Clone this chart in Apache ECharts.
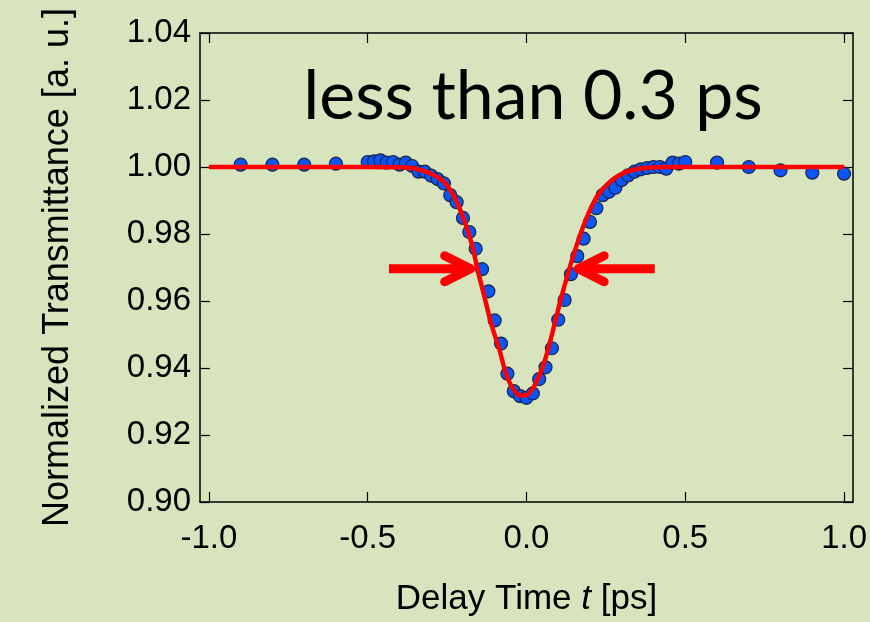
<!DOCTYPE html>
<html>
<head>
<meta charset="utf-8">
<script src="https://cdn.jsdelivr.net/npm/echarts@6/dist/echarts.min.js"></script>
<style>
html,body{margin:0;padding:0;background:#d7e4bd;}
#chart{width:870px;height:622px;}
</style>
</head>
<body>
<div id="chart"></div>
<script>
// Measured points (delay time in ps, normalized transmittance)
const pointX = [-0.9,-0.8,-0.7,-0.6,
  -0.50,-0.48,-0.46,-0.44,-0.42,-0.40,-0.38,-0.36,-0.34,-0.32,-0.30,-0.28,-0.26,-0.24,-0.22,-0.20,
  -0.18,-0.16,-0.14,-0.12,-0.10,-0.08,-0.06,-0.04,-0.02,0.00,
  0.02,0.04,0.06,0.08,0.10,0.12,0.14,0.16,0.18,0.20,0.22,0.24,0.26,0.28,0.30,0.32,0.34,0.36,0.38,0.40,
  0.42,0.44,0.46,0.48,0.50,
  0.6,0.7,0.8,0.9,1.0];
const pointY = [1.0007,1.0007,1.0007,1.0010,
  1.0015,1.0017,1.0020,1.0013,1.0015,1.0007,1.0013,1.0003,0.9986,0.9986,0.9974,0.9964,0.9951,0.9916,0.9895,0.9848,
  0.9806,0.9756,0.9695,0.9629,0.9542,0.9473,0.9383,0.9331,0.9316,0.9311,
  0.9324,0.9367,0.9402,0.9459,0.9544,0.9603,0.9680,0.9734,0.9786,0.9836,0.9877,0.9916,0.9926,0.9938,0.9961,0.9975,0.9986,0.9993,0.9997,1.0000,
  1.0000,0.9995,1.0013,1.0010,1.0015,
  1.0013,1.0000,0.9990,0.9983,0.9980];

// Fit curve
const fitX = [-1.0,-0.5,-0.4,-0.35,-0.30,-0.26,-0.24,-0.22,-0.195,-0.172,-0.153,-0.132,-0.111,-0.085,-0.065,-0.044,-0.018,0.0,0.024,0.055,0.081,0.107,0.133,0.159,0.185,0.222,0.263,0.316,0.38,0.45,0.5,1.0];
const fitY = [1.0,1.0,0.9999,0.9995,0.9980,0.9956,0.9931,0.9897,0.9838,0.9769,0.9690,0.9611,0.9532,0.9454,0.9385,0.9340,0.9318,0.9319,0.9345,0.9414,0.9503,0.9601,0.9690,0.9769,0.9838,0.9912,0.9956,0.9986,0.9998,1.0,1.0,1.0];

// Arrows: [tail x, tip x, y]
const arrowLeft = [-0.433, -0.160, 0.9696];
const arrowRight = [0.404, 0.147, 0.9696];

const xTicks = [-1.0, -0.5, 0.0, 0.5, 1.0];
const yMin = 0.90, yMax = 1.04, yStep = 0.02;
const xMin = -1.028, xMax = 1.028;

const titleText = 'less than 0.3 ps';

const chart = echarts.init(document.getElementById('chart'));

const scatterData = pointX.map((x, i) => [x, pointY[i]]);
const fitData = fitX.map((x, i) => [x, fitY[i]]);

function renderArrow(params, api) {
  const tail = api.coord([api.value(0), api.value(2)]);
  const tip = api.coord([api.value(1), api.value(2)]);
  const d = tip[0] > tail[0] ? 1 : -1;
  const lw = 9, inset = 5, hl = 26, hw = 13;
  const t = [tip[0] - d * inset, tip[1]];
  return {
    type: 'group',
    children: [
      { type: 'line', shape: { x1: tail[0], y1: tail[1], x2: t[0] - d * 2, y2: t[1] },
        style: { stroke: '#ff0000', lineWidth: lw, lineCap: 'butt' } },
      { type: 'polyline', shape: { points: [[t[0] - d * hl, t[1] - hw], [t[0], t[1]], [t[0] - d * hl, t[1] + hw]] },
        style: { stroke: '#ff0000', lineWidth: lw, lineCap: 'round', lineJoin: 'round', fill: null } }
    ]
  };
}

const font = 'Liberation Sans';
const axisLineStyle = { color: '#000', width: 1.5 };

chart.setOption({
  animation: false,
  backgroundColor: '#d7e4bd',
  grid: { left: 200, right: 14, top: 33, bottom: 111 },
  graphic: [{
    type: 'text',
    x: 533, y: 97,
    style: { text: titleText, font: '68px Lato', fill: '#000', textAlign: 'center', textVerticalAlign: 'middle' },
    z: 10
  }],
  xAxis: [{
    type: 'value', min: xMin, max: xMax, position: 'bottom',
    axisLine: { onZero: false, lineStyle: axisLineStyle },
    axisTick: { inside: true, length: 10, customValues: xTicks, lineStyle: { color: '#000', width: 1.2 } },
    axisLabel: { customValues: xTicks, formatter: v => v.toFixed(1), fontFamily: font, fontSize: 33, color: '#000', margin: 20 },
    splitLine: { show: false },
    name: '{n|Delay Time }{i|t}{n| [ps]}',
    nameLocation: 'middle', nameGap: 80,
    nameTextStyle: { rich: {
      n: { fontFamily: font, fontSize: 35, color: '#000' },
      i: { fontFamily: font, fontSize: 35, color: '#000', fontStyle: 'italic' }
    } }
  }, {
    type: 'value', min: xMin, max: xMax, position: 'top',
    axisLine: { show: true, onZero: false, lineStyle: axisLineStyle },
    axisTick: { show: true, inside: true, length: 10, customValues: xTicks, lineStyle: { color: '#000', width: 1.2 } },
    axisLabel: { show: false },
    splitLine: { show: false }
  }],
  yAxis: [{
    type: 'value', min: yMin, max: yMax, interval: yStep, position: 'left',
    axisLine: { show: true, onZero: false, lineStyle: axisLineStyle },
    axisTick: { show: true, inside: true, length: 10, lineStyle: { color: '#000', width: 1.2 } },
    axisLabel: { formatter: v => v.toFixed(2), fontFamily: font, fontSize: 33, color: '#000', margin: 9 },
    splitLine: { show: false },
    name: 'Normalized Transmittance [a. u.]',
    nameLocation: 'middle', nameGap: 124,
    nameTextStyle: { fontFamily: font, fontSize: 36, color: '#000' }
  }, {
    type: 'value', min: yMin, max: yMax, interval: yStep, position: 'right',
    axisLine: { show: true, onZero: false, lineStyle: axisLineStyle },
    axisTick: { show: true, inside: true, length: 10, lineStyle: { color: '#000', width: 1.2 } },
    axisLabel: { show: false },
    splitLine: { show: false }
  }],
  series: [{
    type: 'scatter',
    data: scatterData,
    symbol: 'circle',
    symbolSize: 13,
    itemStyle: { color: '#0a55f5', borderColor: '#1b2444', borderWidth: 1.2, opacity: 1 },
    z: 2
  }, {
    type: 'line',
    data: fitData,
    showSymbol: false,
    smooth: 0.35,
    lineStyle: { color: '#ff0000', width: 4.5 },
    z: 3
  }, {
    type: 'custom',
    renderItem: renderArrow,
    data: [arrowLeft, arrowRight],
    encode: { x: [0, 1], y: 2 },
    clip: false,
    z: 4
  }]
});
</script>
</body>
</html>
